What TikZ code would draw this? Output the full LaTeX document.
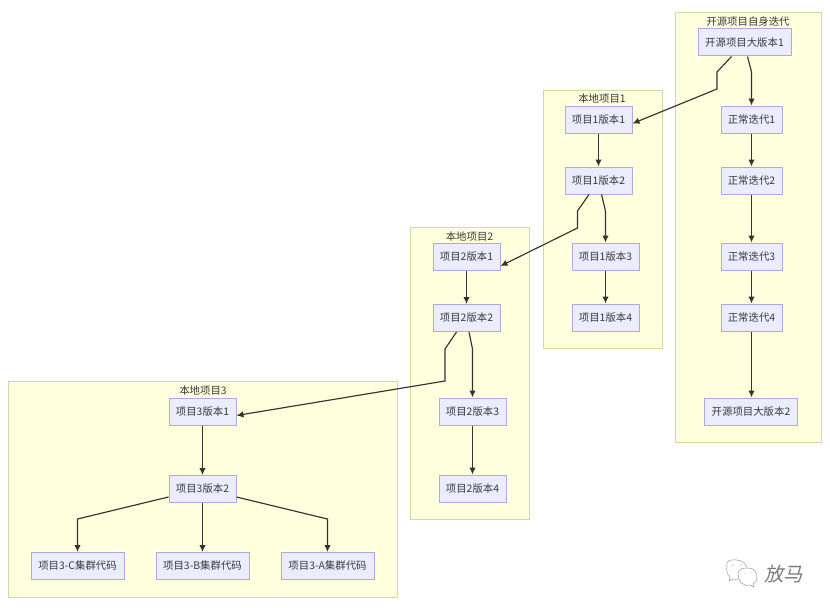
\documentclass[tikz,border=0pt]{standalone}
\usepackage{fontspec}
\setmainfont{Noto Sans CJK SC}
\newfontfamily\wmfont[FakeSlant=0.2]{Noto Sans CJK SC}
\usetikzlibrary{arrows.meta}
\definecolor{clusterfill}{HTML}{FFFFDE}
\definecolor{clusterline}{HTML}{D6D6A0}
\definecolor{nodefill}{HTML}{ECECFF}
\definecolor{nodeline}{HTML}{B4A6E4}
\definecolor{edgecol}{HTML}{333333}
\definecolor{txtcol}{HTML}{3A3A3A}
\definecolor{wmcol}{HTML}{9A9A9A}
\tikzset{
  x=1pt,y=-1pt,
  cluster/.style={draw=clusterline,fill=clusterfill,line width=1pt},
  ctitle/.style={font=\fontsize{10.4}{12}\selectfont,text=txtcol,inner sep=0pt},
  box/.style={draw=nodeline,fill=nodefill,line width=1pt,font=\fontsize{10.4}{12}\selectfont,text=txtcol,inner sep=0pt,minimum height=27pt},
  w67/.style={box,minimum width=67pt},
  w61/.style={box,minimum width=61pt},
  w93/.style={box,minimum width=93pt},
  edge/.style={draw=edgecol,line width=1.15pt,-{Latex[length=7pt,width=6.5pt]}},
  bubble/.style={draw=wmcol,line width=0.5pt,fill=white}
}
\begin{document}
\begin{tikzpicture}
\useasboundingbox (0,0) rectangle (830,610);
\fill[white] (0,0) rectangle (830,610);
% clusters
\draw[cluster] (675,13) rectangle (821,442);
\draw[cluster] (543,90) rectangle (662,348);
\draw[cluster] (410,227) rectangle (529,519);
\draw[cluster] (8,381) rectangle (397,597);
\node[ctitle] (ta) at (748,21.5) {开源项目自身迭代};
\node[ctitle] (tb) at (602,98.5) {本地项目1};
\node[ctitle] (tc) at (469.5,236.5) {本地项目2};
\node[ctitle] (td) at (203,391) {本地项目3};
% open source
\node[w93] (big1) at (744.5,42.5) {开源项目大版本1};
\node[w61] (n1) at (751.5,119.5) {正常迭代1};
\node[w61] (n2) at (751.5,180.5) {正常迭代2};
\node[w61] (n3) at (751.5,256.5) {正常迭代3};
\node[w61] (n4) at (751.5,317.5) {正常迭代4};
\node[w93] (big2) at (751,411.5) {开源项目大版本2};
% project 1
\node[w67] (a1) at (598.5,119.5) {项目1版本1};
\node[w67] (a2) at (598.5,180.5) {项目1版本2};
\node[w67] (a3) at (605.5,256.5) {项目1版本3};
\node[w67] (a4) at (605.5,317.5) {项目1版本4};
% project 2
\node[w67] (b1) at (466.5,257) {项目2版本1};
\node[w67] (b2) at (466.5,318) {项目2版本2};
\node[w67] (b3) at (472.5,411.5) {项目2版本3};
\node[w67] (b4) at (472.5,488.5) {项目2版本4};
% project 3
\node[w67] (c1) at (202.5,411.5) {项目3版本1};
\node[w67] (c2) at (202.5,489) {项目3版本2};
\node[w93] (cc) at (77.5,566) {项目3-C集群代码};
\node[w93] (cb) at (202.5,566) {项目3-B集群代码};
\node[w93] (ca) at (327.5,566) {项目3-A集群代码};
% edges
\draw[edge] ([xshift=-13pt]big1.south) -- (717,72) -- (717,89) -- ([yshift=-4pt]a1.east);
\draw[edge] ([xshift=3pt]big1.south) -- (751.5,72) -- (n1.north);
\draw[edge] (n1) -- (n2);
\draw[edge] (n2) -- (n3);
\draw[edge] (n3) -- (n4);
\draw[edge] (n4) -- (n4.south |- big2.north);
\draw[edge] (a1) -- (a2);
\draw[edge] ([xshift=-9.5pt]a2.south) -- (577.5,211) -- (577.5,228) -- ([yshift=-9pt]b1.east);
\draw[edge] ([xshift=3pt]a2.south) -- (605.5,211) -- (a3.north);
\draw[edge] (a3) -- (a4);
\draw[edge] (b1) -- (b2);
\draw[edge] ([xshift=-10pt]b2.south) -- (445,349) -- (445,381) -- ([yshift=-4pt]c1.east);
\draw[edge] ([xshift=2.5pt]b2.south) -- (472.5,349) -- (b3.north);
\draw[edge] (b3) -- (b4);
\draw[edge] (c1) -- (c2);
\draw[edge] (c2.west |- 0,497) -- (77.5,519) -- (cc.north);
\draw[edge] (c2) -- (cb);
\draw[edge] (c2.east |- 0,497) -- (327.5,519) -- (ca.north);
% watermark
\draw[bubble] (727,566) .. controls (725,559) and (735,559) .. (741,561) .. controls (747,563) and (749,570) .. (745,575) .. controls (742,579) and (737,580) .. (733,579) -- (729,581) -- (730,577) .. controls (727,574) and (726,570) .. (727,566) -- cycle;
\draw[bubble] (738,574) .. controls (738,568) and (744,568) .. (749,568) .. controls (754,568) and (757,573) .. (757,577) .. controls (757,581) and (755,583) .. (753,584) -- (754,587) -- (750,585) .. controls (743,587) and (738,581) .. (738,574) -- cycle;
\fill[wmcol] (733,565) circle (0.6pt) (741,565) circle (0.6pt) (745,573) circle (0.5pt) (751,573) circle (0.5pt);
\node[font=\wmfont\fontsize{19.5}{22}\selectfont,text=wmcol!80!black,inner sep=0pt] (wm) at (783.5,574) {放马};
\end{tikzpicture}
\end{document}
